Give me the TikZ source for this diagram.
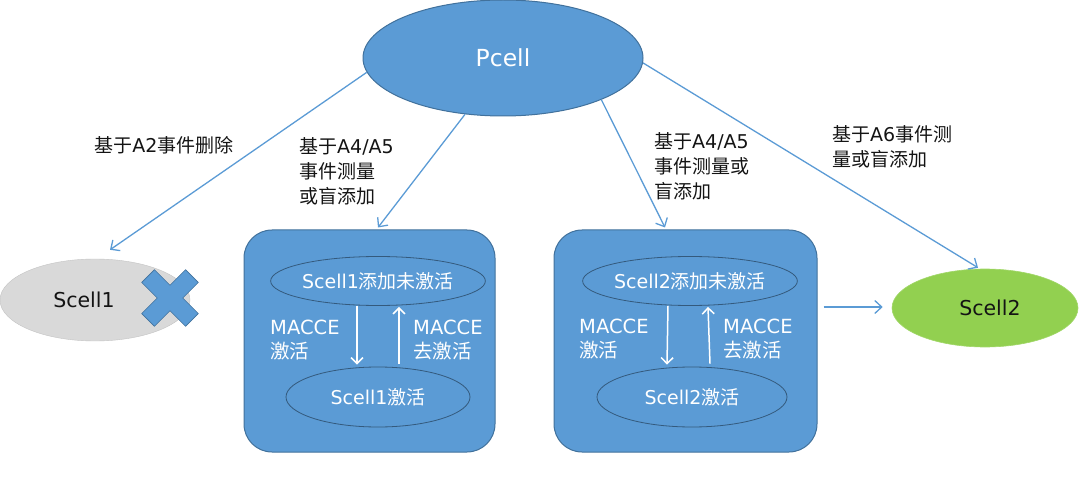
\documentclass[tikz,border=0pt]{standalone}
\usepackage{fontspec}
\setmainfont{Noto Sans CJK SC}
\newfontfamily\latf{DejaVu Sans}
\usetikzlibrary{shapes.geometric,arrows.meta}
\definecolor{cblue}{RGB}{91,155,213}
\definecolor{cbord}{RGB}{65,113,156}
\definecolor{cgray}{RGB}{217,217,217}
\definecolor{cgreen}{RGB}{146,208,80}
\definecolor{ctext}{RGB}{20,20,20}
\newcommand{\La}[1]{{\latf #1}}
\begin{document}
\begin{tikzpicture}[x=1pt,y=-1pt,
  ell/.style={ellipse,inner sep=0pt},
  bigell/.style={ell,fill=cblue,draw=cbord,line width=1pt},
  innerell/.style={ell,fill=cblue,draw=cbord!80!black,line width=0.8pt,text=white,font=\fontsize{19}{22}\selectfont},
  stbox/.style={rectangle,rounded corners=28pt,fill=cblue,draw=cbord,line width=1pt,inner sep=0pt},
  lbl/.style={inner sep=0pt,align=left,text=ctext,font=\fontsize{19}{25}\selectfont},
  wlbl/.style={inner sep=0pt,align=left,text=white,font=\fontsize{19.5}{24}\selectfont},
  conn/.style={draw=cblue,line width=1.3pt,-{Straight Barb[length=7pt,width=13pt]}},
  wconn/.style={draw=white,line width=1.5pt,-{Straight Barb[length=6pt,width=12pt]}}
]
\useasboundingbox (0,0) rectangle (1080,500);

% main nodes
\node[bigell,minimum width=280pt,minimum height=116pt,text=white,font=\fontsize{23.5}{28}\selectfont] (pcell) at (503,58) {\La{Pcell}};
\node[ell,fill=cgray,draw=cgray!90!black,line width=0.4pt,minimum width=190pt,minimum height=82pt] (s1) at (95,300) {};
\node[inner sep=0pt,text=ctext,font=\fontsize{20.5}{24}\selectfont] (s1t) at (84,300) {\La{Scell1}};
\node[ell,fill=cgreen,draw=cgreen!85!white,line width=0.6pt,minimum width=186pt,minimum height=78pt,text=ctext,font=\fontsize{20.5}{24}\selectfont] (s2) at (985,308) {\hspace*{10pt}\La{Scell2}};

\node[stbox,minimum width=251pt,minimum height=222pt] (box1) at (369.5,341) {};
\node[stbox,minimum width=263pt,minimum height=222pt] (box2) at (685.5,341) {};

\node[innerell,minimum width=185pt,minimum height=49pt] (b1top) at (378,281) {\La{Scell1}添加未激活};
\node[innerell,minimum width=184pt,minimum height=60pt] (b1bot) at (378,397) {\La{Scell1}激活};
\node[innerell,minimum width=186pt,minimum height=49pt] (b2top) at (690,281) {\La{Scell2}添加未激活};
\node[innerell,minimum width=190pt,minimum height=60pt] (b2bot) at (692,397) {\La{Scell2}激活};

% cross
\begin{scope}[shift={(170,298)},rotate=45]
\filldraw[fill=cblue,draw=cbord,line width=0.6pt]
  (-9,-31) -- (9,-31) -- (9,-9) -- (31,-9) -- (31,9) -- (9,9) -- (9,31)
  -- (-9,31) -- (-9,9) -- (-31,9) -- (-31,-9) -- (-9,-9) -- cycle;
\end{scope}

% labels
\node[lbl] (l1) at (164,145) {基于\La{A2}事件删除};
\node[lbl,anchor=west] (l2) at (299,171) {基于\La{A4/A5}\\事件测量\\或盲添加};
\node[lbl,anchor=west] (l3) at (654,166) {基于\La{A4/A5}\\事件测量或\\盲添加};
\node[lbl,anchor=west] (l4) at (832,147) {基于\La{A6}事件测\\量或盲添加};

\node[wlbl,anchor=west] (m1) at (270,340) {\La{MACCE}\\激活};
\node[wlbl,anchor=west] (m2) at (413,340) {\La{MACCE}\\去激活};
\node[wlbl,anchor=west] (m3) at (579,339) {\La{MACCE}\\激活};
\node[wlbl,anchor=west] (m4) at (723,339) {\La{MACCE}\\去激活};

% connectors
\draw[conn] (pcell.186) -- ([xshift=15pt,yshift=9pt]s1.north);
\draw[conn] (pcell.236) -- ([xshift=8.5pt,yshift=2pt]box1.north);
\draw[conn] (pcell.337) -- ([xshift=-20.5pt,yshift=2pt]box2.north);
\draw[conn] (pcell.358) -- ([xshift=-7pt,yshift=1pt]s2.north);
\draw[conn] ([xshift=6pt,yshift=34pt]box2.east) -- ([xshift=-9pt,yshift=1pt]s2.west);

\draw[wconn] ([xshift=-21pt]b1top.south) -- ([xshift=-21pt,yshift=2pt]b1bot.north);
\draw[wconn] ([xshift=21pt,yshift=3pt]b1bot.north) -- ([xshift=21pt,yshift=-1pt]b1top.south);
\draw[wconn] ([xshift=-22pt]b2top.south) -- ([xshift=-25pt,yshift=2pt]b2bot.north);
\draw[wconn] ([xshift=18pt,yshift=3pt]b2bot.north) -- ([xshift=18pt,yshift=-1pt]b2top.south);
\end{tikzpicture}
\end{document}
